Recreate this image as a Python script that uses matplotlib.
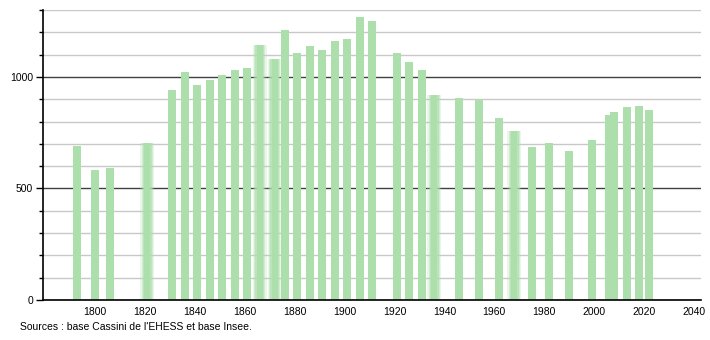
#encoding: utf-8

import matplotlib
matplotlib.use("Agg")
import matplotlib.pyplot as plt
from matplotlib.ticker import MultipleLocator

# census years and population
years = [1793, 1800, 1806, 1821, 1831, 1836, 1841, 1846, 1851, 1856,
         1861, 1866, 1872, 1876, 1881, 1886, 1891, 1896, 1901, 1906,
         1911, 1921, 1926, 1931, 1936, 1946, 1954, 1962, 1968, 1975,
         1982, 1990, 1999, 2006, 2008, 2013, 2018, 2022]
population = [690, 585, 591, 706, 941, 1022, 964, 986, 1009, 1030,
              1040, 1144, 1081, 1210, 1108, 1140, 1119, 1162, 1171, 1270,
              1249, 1108, 1068, 1032, 919, 905, 901, 817, 757, 686,
              703, 668, 716, 830, 842, 865, 868, 851]
# bars that look soft / blurred in the original
blurred_years = [1821, 1866, 1872, 1936, 1968]

x_ticks = [1800, 1820, 1840, 1860, 1880, 1900, 1920, 1940, 1960, 1980, 2000, 2020, 2040]
y_ticks = [0, 500, 1000]
source_text = "Sources : base Cassini de l'EHESS et base Insee."

BAR_COLOR = "#addfad"


def drawBars(ax):
    for year, value in zip(years, population):
        if year in blurred_years:
            # fake the fuzzy edges with a few wider translucent bars
            for extra, alpha in [(2.4, 0.25), (1.4, 0.4), (0.6, 0.6)]:
                ax.bar(year, value, width=3.2 + extra, color=BAR_COLOR,
                       alpha=alpha, linewidth=0, zorder=2)
            ax.bar(year, value, width=2.4, color=BAR_COLOR, linewidth=0, zorder=3)
        else:
            ax.bar(year, value, width=3.2, color=BAR_COLOR, linewidth=0, zorder=3)


def styleAxes(ax):
    ax.set_xlim(1779.2, 2042.8)
    ax.set_ylim(0, 1300)

    ax.set_xticks(x_ticks)
    ax.set_xticklabels([str(t) for t in x_ticks])
    ax.set_yticks(y_ticks)
    ax.set_yticklabels([str(t) for t in y_ticks])
    ax.yaxis.set_minor_locator(MultipleLocator(100))

    ax.tick_params(axis="x", length=0, labelsize=7.5, pad=5)
    ax.tick_params(axis="y", which="major", length=5, width=1, labelsize=7.5, pad=2)
    ax.tick_params(axis="y", which="minor", length=3, width=1)

    # light grid every 100, dark every 500
    ax.grid(axis="y", which="minor", color="#c8c8c8", linewidth=1, zorder=0)
    ax.grid(axis="y", which="major", color="#404040", linewidth=1, zorder=1)
    ax.grid(axis="x", visible=False)
    ax.set_axisbelow(True)

    for side in ["top", "right"]:
        ax.spines[side].set_visible(False)
    for side in ["left", "bottom"]:
        ax.spines[side].set_color("black")
        ax.spines[side].set_linewidth(1.2)
        ax.spines[side].set_zorder(5)


def main():
    plt.rcParams["font.family"] = ["Liberation Sans", "DejaVu Sans"]

    fig = plt.figure(figsize=(7.1, 3.4), dpi=100)
    ax = fig.add_axes([43 / 710, 40 / 340, 658 / 710, 290 / 340])

    drawBars(ax)
    styleAxes(ax)

    fig.text(20 / 710, 1 - 327 / 340, source_text, fontsize=7.5,
             ha="left", va="center", color="black")

    fig.savefig("out.png", dpi=100)


if __name__ == "__main__":
    main()
